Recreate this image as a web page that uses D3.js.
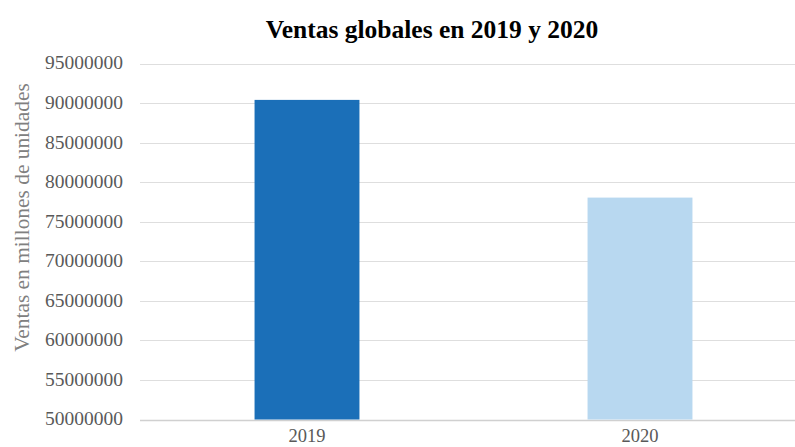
<!DOCTYPE html>
<html><head><meta charset="utf-8">
<script src="https://cdn.jsdelivr.net/npm/d3@7"></script>
<style>body{margin:0;background:#fff}svg{display:block}</style>
</head><body>
<script>
const categories = ["2019", "2020"];
const values = [90400000, 78050000];
const barColors = ["#1b6fb8", "#b8d8f0"];
const yTicks = [50000000,55000000,60000000,65000000,70000000,75000000,80000000,85000000,90000000,95000000];

const W = 795, H = 447;
const svg = d3.select("body").append("svg").attr("width", W).attr("height", H);
const font = "'Liberation Serif','Times New Roman',serif";

const y = d3.scaleLinear().domain([50000000, 95000000]).range([419.5, 63.5]);
const x = d3.scaleBand().domain(categories).range([140.5, 806.5]).paddingInner(0.685).paddingOuter(0.3425);

// gridlines
svg.append("g").selectAll("line").data(yTicks).join("line")
  .attr("x1", 140).attr("x2", W)
  .attr("y1", d => Math.round(y(d)) + 0.5).attr("y2", d => Math.round(y(d)) + 0.5)
  .attr("stroke", d => d === 50000000 ? "#d0d0d0" : "#dedede").attr("stroke-width", d => d === 50000000 ? 1.5 : 1);

// y axis labels
const yAxis = d3.axisLeft(y).tickValues(yTicks).tickSize(0).tickPadding(0).tickFormat(d3.format("d"));
const ya = svg.append("g").attr("transform", "translate(123,0)").call(yAxis);
ya.select(".domain").remove();
ya.selectAll("text").attr("font-family", font).attr("font-size", 19.5).attr("fill", "#595959").attr("dy", "0.28em");

// bars
svg.append("g").selectAll("rect").data(values).join("rect")
  .attr("x", (d, i) => x(categories[i]))
  .attr("width", x.bandwidth())
  .attr("y", d => y(d))
  .attr("height", d => y(50000000) - y(d))
  .attr("fill", (d, i) => barColors[i]);

// x axis labels
const xAxis = d3.axisBottom(x).tickSize(0).tickPadding(0);
const xa = svg.append("g").attr("transform", "translate(0,441.5)").call(xAxis);
xa.select(".domain").remove();
xa.selectAll("text").attr("font-family", font).attr("font-size", 18.5).attr("fill", "#595959").attr("dy", "0");

// title
svg.append("text").attr("x", 432).attr("y", 37.5).attr("text-anchor", "middle")
  .attr("font-family", font).attr("font-weight", "bold").attr("font-size", 25.5).attr("fill", "#000")
  .text("Ventas globales en 2019 y 2020");

// y axis title
svg.append("text").attr("transform", "translate(28.5,217.5) rotate(-90)").attr("text-anchor", "middle")
  .attr("font-family", font).attr("font-size", 21.4).attr("fill", "#808080")
  .text("Ventas en millones de unidades");
</script>
</body></html>
